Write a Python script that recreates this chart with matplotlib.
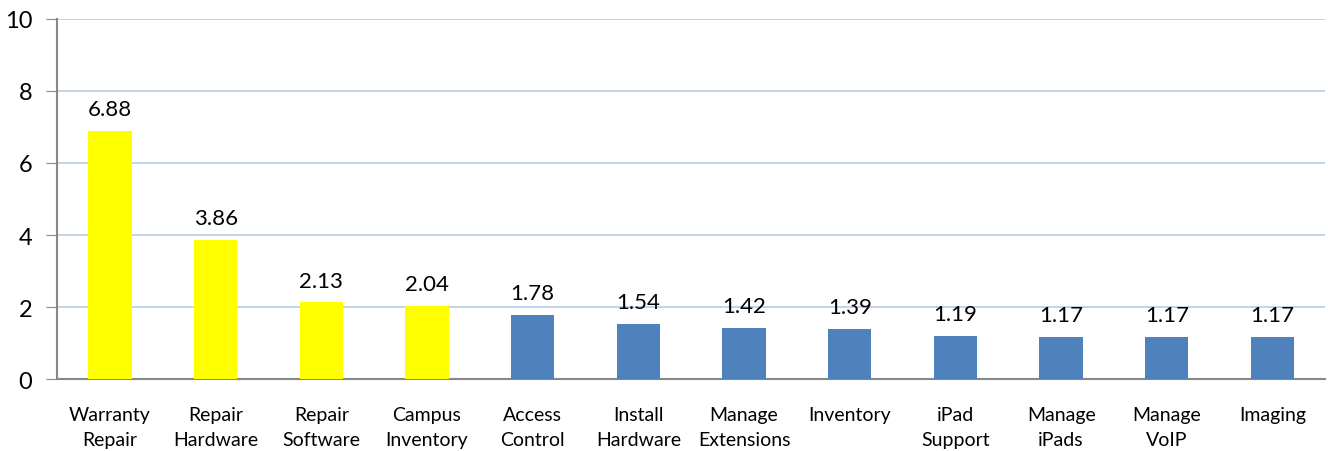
import matplotlib
matplotlib.use("Agg")
import matplotlib.pyplot as plt

plt.rcParams['font.family'] = ['Lato', 'DejaVu Sans']

categories = ["Warranty\nRepair", "Repair\nHardware", "Repair\nSoftware", "Campus\nInventory",
              "Access\nControl", "Install\nHardware", "Manage\nExtensions", "Inventory",
              "iPad\nSupport", "Manage\niPads", "Manage\nVoIP", "Imaging"]
values = [6.88, 3.86, 2.13, 2.04, 1.78, 1.54, 1.42, 1.39, 1.19, 1.17, 1.17, 1.17]
highlight = [True, True, True, True, False, False, False, False, False, False, False, False]

colors = ["#FFFF00" if h else "#4F81BD" for h in highlight]

fig = plt.figure(figsize=(13.28, 4.52), dpi=100)
ax = fig.add_axes([0.043, 0.159, 0.955, 0.797])

x = list(range(len(categories)))
ax.bar(x, values, width=0.41, color=colors, zorder=3)

for xi, v in zip(x, values):
    ax.text(xi, v + 0.33, f"{v:.2f}", ha="center", va="bottom", fontsize=16)

ax.set_ylim(0, 10)
ax.set_yticks([0, 2, 4, 6, 8, 10])
ax.set_xlim(-0.5, len(categories) - 0.5)
ax.set_xticks(x)
ax.set_xticklabels(categories, fontsize=14, linespacing=1.6)
ax.tick_params(axis="x", length=0, pad=19)
ax.tick_params(axis="y", labelsize=17, length=8, color="#888888", pad=10)

ax.grid(axis="y", color="#B9CDE5", linewidth=1.2, zorder=0)
for side in ["top", "right"]:
    ax.spines[side].set_visible(False)
ax.spines["left"].set_color("#888888")
ax.spines["bottom"].set_color("#888888")
ax.spines["left"].set_linewidth(1.5)
ax.spines["bottom"].set_linewidth(1.5)

fig.savefig("out.png", dpi=100)
